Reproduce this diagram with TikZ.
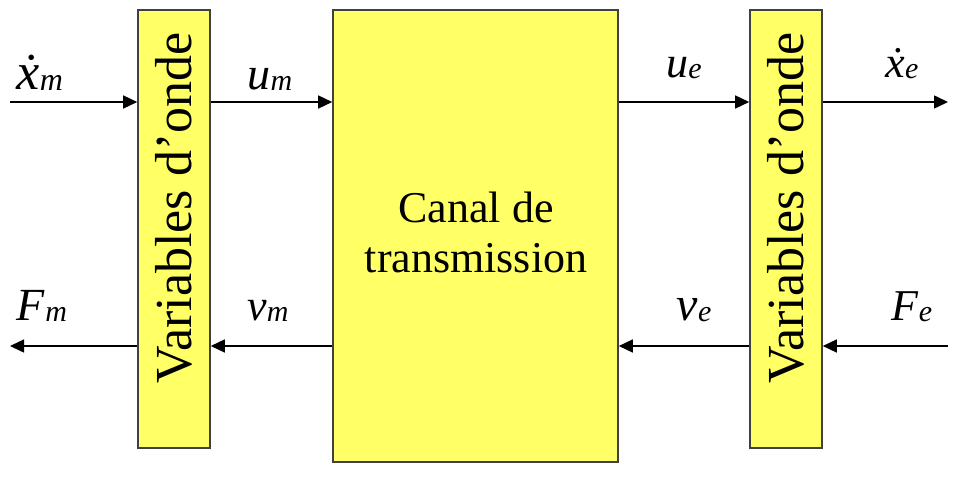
\documentclass[tikz,border=0pt]{standalone}
\usepackage{fontspec}
\setmainfont{Liberation Serif}
\usetikzlibrary{arrows.meta}
\definecolor{boxyellow}{RGB}{255,255,102}
\newcommand{\lbl}[4]{{\fontsize{#1}{#1}\selectfont\textit{#2}}\raisebox{-1pt}{\fontsize{#3}{#3}\selectfont\textit{#4}}}
\tikzset{
  blk/.style={draw=black!75, line width=1.6pt, fill=boxyellow, inner sep=0pt},
  sig/.style={line width=1.5pt, -{Triangle[length=14pt,width=13pt]}},
  lab/.style={anchor=base, inner sep=0pt},
  vtext/.style={rotate=90, font=\fontsize{52}{52}\selectfont}
}
\begin{document}
\begin{tikzpicture}[x=1pt,y=-1pt]
\useasboundingbox (0,0) rectangle (960,478);
\node[blk, minimum width=72pt, minimum height=438pt] (L) at (174,229) {};
\node[blk, minimum width=285pt, minimum height=452pt] (C) at (475.5,236) {};
\node[blk, minimum width=72pt, minimum height=438pt] (R) at (786,229) {};
\node[vtext] (Lt) at (174,208) {Variables d’onde};
\node[vtext] (Rt) at (786,208) {Variables d’onde};
\node[align=center, font=\fontsize{44}{50}\selectfont] (Ct) at (476,232) {Canal de\\transmission};
% connector end points
\coordinate (inL) at (10,102);
\coordinate (outL) at (10,346);
\coordinate (outR) at (948,102);
\coordinate (inR) at (948,346);
\draw[sig] (inL) -- (inL -| L.west);
\draw[sig] (L.east |- inL) -- (C.west |- inL);
\draw[sig] (C.east |- inL) -- (R.west |- inL);
\draw[sig] (R.east |- outR) -- (outR);
\draw[sig] (L.west |- outL) -- (outL);
\draw[sig] (C.west |- outL) -- (L.east |- outL);
\draw[sig] (R.west |- outL) -- (C.east |- outL);
\draw[sig] (inR) -- (R.east |- inR);
% labels
\node[lab] (xm) at (40,90) {\lbl{52}{\.{x}}{32}{m}};
\node[lab] (um) at (270,90) {\lbl{46}{u}{30}{m}};
\node[lab] (ue) at (684,78) {\lbl{44}{u}{30}{e}};
\node[lab] (xe) at (902,78) {\lbl{44}{\.{x}}{30}{e}};
\node[lab] (Fm) at (42,320) {\lbl{46}{F}{30}{m}};
\node[lab] (vm) at (268,320) {\lbl{44}{v}{30}{m}};
\node[lab] (ve) at (694,320) {\lbl{48}{v}{30}{e}};
\node[lab] (Fe) at (912,320) {\lbl{44}{F}{30}{e}};
\end{tikzpicture}
\end{document}
